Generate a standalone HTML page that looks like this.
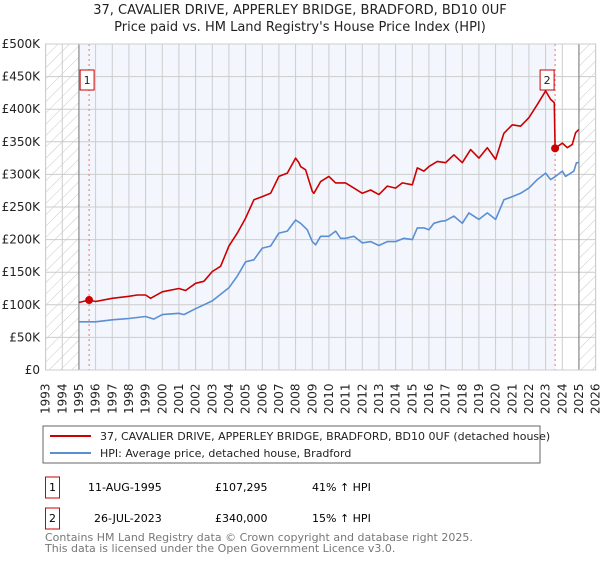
<!DOCTYPE html>
<html><head><meta charset="utf-8"><style>
body{margin:0;background:#fff;font-family:"Liberation Sans","DejaVu Sans",sans-serif;}
svg text{font-family:"DejaVu Sans","Liberation Sans",sans-serif;}
</style></head><body>
<svg id="c" width="600" height="560" xmlns="http://www.w3.org/2000/svg">
<defs><pattern id="hatch" patternUnits="userSpaceOnUse" width="8" height="8" patternTransform="rotate(45)"><line x1="0" y1="0" x2="0" y2="8" stroke="#bbb" stroke-width="0.8"/></pattern></defs>
<text x="300" y="14" text-anchor="middle" font-size="13" fill="#222">37, CAVALIER DRIVE, APPERLEY BRIDGE, BRADFORD, BD10 0UF</text>
<text x="300" y="31" text-anchor="middle" font-size="13" fill="#222">Price paid vs. HM Land Registry's House Price Index (HPI)</text>
<g id="plot"></g>
<rect x="43" y="426" width="497" height="37" fill="#fff" stroke="#666"/>
<g><line x1="50" y1="436" x2="91" y2="436" stroke="#cc0000" stroke-width="2"/><text x="100" y="440" font-size="11" fill="#222">37, CAVALIER DRIVE, APPERLEY BRIDGE, BRADFORD, BD10 0UF (detached house)</text></g>
<g><line x1="50" y1="453" x2="91" y2="453" stroke="#5b8fd4" stroke-width="2"/><text x="100" y="457" font-size="11" fill="#222">HPI: Average price, detached house, Bradford</text></g>
<g><rect x="45.5" y="477" width="14" height="21" fill="#fff" stroke="#cc0000"/><text x="52.5" y="491" text-anchor="middle" font-size="11">1</text><text x="88" y="491" font-size="11">11-AUG-1995</text><text x="215" y="491" font-size="11">£107,295</text><text x="312" y="491" font-size="11">41% ↑ HPI</text></g>
<g><rect x="45.5" y="508" width="14" height="21" fill="#fff" stroke="#cc0000"/><text x="52.5" y="522" text-anchor="middle" font-size="11">2</text><text x="94" y="522" font-size="11">26-JUL-2023</text><text x="215" y="522" font-size="11">£340,000</text><text x="312" y="522" font-size="11">15% ↑ HPI</text></g>
<text x="45" y="541" font-size="11" fill="#777">Contains HM Land Registry data © Crown copyright and database right 2025.</text>
<text x="45" y="552" font-size="11" fill="#777">This data is licensed under the Open Government Licence v3.0.</text>
</svg>
<script>
const yTicks=[0,50,100,150,200,250,300,350,400,450,500];
const yLabels=["£0","£50K","£100K","£150K","£200K","£250K","£300K","£350K","£400K","£450K","£500K"];
const years=[1993,1994,1995,1996,1997,1998,1999,2000,2001,2002,2003,2004,2005,2006,2007,2008,2009,2010,2011,2012,2013,2014,2015,2016,2017,2018,2019,2020,2021,2022,2023,2024,2025,2026];
const hpiT=[1995,1996,1997,1998,1999,1999.5,2000,2001,2001.3,2002,2003,2004,2004.5,2005,2005.5,2006,2006.5,2007,2007.5,2008,2008.3,2008.7,2009,2009.2,2009.5,2010,2010.4,2010.7,2011,2011.5,2012,2012.5,2013,2013.5,2014,2014.5,2015,2015.3,2015.7,2016,2016.3,2016.7,2017,2017.5,2018,2018.4,2019,2019.5,2020,2020.5,2021,2021.5,2022,2022.5,2023,2023.3,2023.6,2024,2024.2,2024.7,2024.85,2025];
const hpiV=[74,74,77,79,82,78,85,87,85,94,106,126,144,166,169,187,190,210,213,230,225,215,197,192,205,205,213,202,202,205,195,197,191,197,197,202,200,218,218,215,225,228,229,236,225,241,231,241,231,261,266,271,279,292,302,292,297,305,297,305,318,318];
const ppT=[1995,1995.61,1996,1997,1998,1998.5,1999,1999.3,2000,2001,2001.4,2002,2002.5,2003,2003.5,2004,2004.5,2005,2005.5,2006,2006.5,2007,2007.5,2008,2008.2,2008.3,2008.6,2009,2009.1,2009.5,2010,2010.4,2011,2011.5,2012,2012.5,2013,2013.5,2014,2014.4,2015,2015.3,2015.7,2016,2016.5,2017,2017.5,2018,2018.5,2019,2019.5,2020,2020.5,2021,2021.5,2022,2022.5,2023,2023.3,2023.52,2023.57,2024,2024.3,2024.6,2024.8,2025];
const ppV=[103.5,107.3,105,110,113,115,115,110,120,125,122,133,136,151,159,190,210,233,261,266,271,297,302,325,318,312,307,274,271,289,297,287,287,279,271,276,269,282,279,287,284,310,305,312,320,318,330,318,338,325,341,323,363,376,374,387,407,428,415,410,340,348,341,346,364,369];
const saleT=[1995.61,2023.57];
const saleV=[107.295,340];
const saleLbl=["1","2"];
const NS="http://www.w3.org/2000/svg";
const X0=45.6,X1=595.6,Y0=370,Y1=44;
const xs=t=>X0+(t-1993)/(2026-1993)*(X1-X0);
const ys=v=>Y0-v/500*(Y0-Y1);
const g=document.getElementById('plot');
function mk(tag,a){const e=document.createElementNS(NS,tag);for(const k in a)e.setAttribute(k,a[k]);g.appendChild(e);return e;}
let e;
e=mk('rect',{x:xs(1995),y:Y1,width:xs(saleT[1])-xs(1995),height:Y0-Y1,fill:'#eef3fc',opacity:0.7});


e=mk('rect',{x:X0,y:Y1,width:xs(1995)-X0,height:Y0-Y1,fill:'url(#hatch)'});


e=mk('rect',{x:xs(2025),y:Y1,width:X1-xs(2025),height:Y0-Y1,fill:'url(#hatch)'});


years.forEach(y=>{
 e=mk('line',{x1:xs(y),x2:xs(y),y1:Y1,y2:Y0,stroke:'#ccc','stroke-width':1});
 
 
 e=mk('text',{x:0,y:0,transform:`translate(${xs(y)+4},414) rotate(-90)`,'font-size':12,fill:'#222'});
 e.textContent=y;
 
 
});
yTicks.forEach((v,i)=>{
 e=mk('line',{x1:X0,x2:X1,y1:ys(v),y2:ys(v),stroke:'#ccc','stroke-width':1});
 
 
 e=mk('text',{x:40,y:ys(v)+4,'text-anchor':'end','font-size':12,fill:'#222'});
 e.textContent=yLabels[i];
 
 
});
[1995,2025].forEach(t=>{e=mk('line',{x1:xs(t),x2:xs(t),y1:Y1,y2:Y0,stroke:'#888','stroke-width':1.2});
 
 });
saleT.forEach((t,i)=>{
 e=mk('line',{x1:xs(t),x2:xs(t),y1:Y1,y2:Y0,stroke:'#f07070','stroke-width':1,'stroke-dasharray':'2,3'});
 
 
});
function path(T,V,col,name){e=mk('path',{d:T.map((t,i)=>(i?'L':'M')+xs(t).toFixed(1)+','+ys(V[i]).toFixed(1)).join(''),fill:'none',stroke:col,'stroke-width':1.6,'stroke-linejoin':'round'});
 
 }
path(hpiT,hpiV,'#5b8fd4','hpi-line');
path(ppT,ppV,'#cc0000','property-price-line');
saleT.forEach((t,i)=>{
 e=mk('circle',{cx:xs(t),cy:ys(saleV[i]),r:4,fill:'#cc0000'});
 
 
 const bx=xs(t)-(i?8:2)-7;
 e=mk('rect',{x:bx,y:70,width:14,height:20,fill:'#fff',stroke:'#cc0000'});
 
 
 e=mk('text',{x:bx+7,y:84,'text-anchor':'middle','font-size':11,fill:'#222'});
 e.textContent=saleLbl[i];
 
 
});
e=mk('rect',{x:X0,y:Y1,width:X1-X0,height:Y0-Y1,fill:'none',stroke:'#ccc'});


</script>
</body></html>
